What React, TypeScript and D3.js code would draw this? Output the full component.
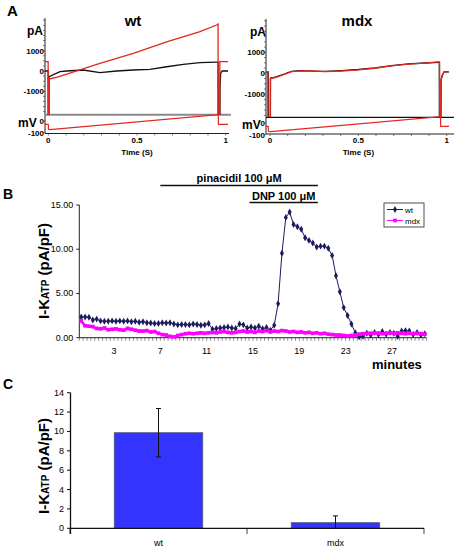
import React from 'react';
import * as d3 from 'd3';

const FONT = "'Liberation Sans', Arial, Helvetica, sans-serif";

// ---------- Panel A : current / voltage traces [time (s), value] ----------
const OFF = -5000; // off-scale (clipped) current
const wtBlackCurrent: [number, number][] = [
  [-0.02, 0], [-0.001, 0], [0.0, OFF], [0.003, OFF], [0.004, -280], [0.066, -30], [0.104, 0], [0.197, 50],
  [0.291, -80], [0.385, 0], [0.479, 50], [0.573, 80], [0.667, 210], [0.761, 330], [0.855, 410], [0.949, 440],
  [0.957, 440], [0.958, OFF], [0.967, OFF], [0.968, -800], [0.972, -100], [0.98, 0], [1.013, 0],
];
const wtRedCurrent: [number, number][] = [
  [-0.02, 460], [-0.001, 460], [0.0, OFF], [0.003, OFF], [0.004, -400], [0.05, -300], [0.104, -150],
  [0.291, 380], [0.479, 870], [0.667, 1440], [0.855, 1935], [0.949, 2265], [0.957, 2315], [0.958, OFF],
  [0.966, OFF], [0.967, 460], [1.013, 460],
];
const mdxBlackCurrent: [number, number][] = [
  [-0.025, 60], [-0.01, 60], [-0.009, OFF], [0.001, OFF], [0.003, -230], [0.03, -180], [0.08, -40],
  [0.122, 90], [0.17, 130], [0.25, 100], [0.311, 90], [0.405, 130], [0.5, 180], [0.594, 260], [0.688, 370],
  [0.783, 450], [0.877, 490], [0.953, 520], [0.958, 520], [0.959, OFF], [0.966, OFF], [0.968, -300],
  [0.975, -80], [0.985, 70], [1.013, 70],
];
const mdxRedCurrent: [number, number][] = [
  [-0.025, 80], [-0.012, 80], [-0.011, OFF], [0.0, OFF], [0.002, -250], [0.03, -200], [0.08, -50],
  [0.122, 80], [0.17, 120], [0.25, 110], [0.311, 80], [0.405, 110], [0.5, 160], [0.594, 240], [0.688, 350],
  [0.783, 440], [0.877, 480], [0.953, 540], [0.96, 540], [0.961, OFF], [0.966, OFF], [0.968, -350],
  [0.975, -100], [0.985, 60], [1.013, 80],
];
const wtVoltage: [number, number][] = [
  [-0.02, -30], [0.0, -30], [0.001, -72], [0.01, -75], [0.958, 55], [0.959, -30], [1.013, -30],
];
const mdxVoltage: [number, number][] = [
  [-0.025, -30], [-0.01, -30], [-0.009, -72], [0.005, -75], [0.965, 55], [0.966, -30], [1.013, -30],
];
const timeTicks = [0, 0.5, 1];
const timeTickLabels = ['0', '0.5', '1'];
const currentTicks = [1000, 0, -1000];
const voltageTicks = [0, -100];

// ---------- Panel B : I-KATP time course (one sample every 20 s) ----------
const wtKatp = [
  2.35, 2.35, 2.3, 2.0, 2.1, 1.9, 1.85, 1.85, 1.9,
  1.85, 1.9, 1.85, 1.9, 1.8, 1.85, 1.75, 1.8, 1.7,
  1.65, 1.6, 1.6, 1.7, 1.65, 1.7, 1.55, 1.45, 1.5,
  1.5, 1.45, 1.55, 1.5, 1.4, 1.45, 1.6, 0.95, 1.05,
  1.1, 1.15, 1.2, 1.1, 1.05, 1.55, 1.45, 1.1, 1.2,
  1.1, 1.3, 1.0, 1.15, 0.85,
  1.4, 3.85, 9.55, 13.6, 14.2, 12.8, 12.55, 12.25, 11.3, 11.0, 10.7, 10.25, 10.35, 10.35, 10.1, 9.3,
  7.0, 5.2, 3.4, 2.5, 1.55, 0.57,
  0.1, 0.15, 0.5, 0.3, 0.6, 0.35, 0.7, 0.4, 0.6,
  0.5, 0.15, 0.75, 0.8, 0.75, 0.35, 0.6, 0.3, 0.45,
];
const mdxKatp = [
  1.9, 1.35, 1.3, 1.25, 1.05, 1.0, 1.1, 0.9, 0.95,
  1.0, 0.9, 0.85, 1.05, 0.95, 0.85, 0.75, 0.75, 0.8,
  0.65, 0.7, 0.5, 0.35, 0.3, 0.15, 0.1, 0.25, 0.35,
  0.45, 0.5, 0.45, 0.5, 0.55, 0.5, 0.55, 0.6, 0.55,
  0.65, 0.7, 0.6, 0.55, 0.6, 0.7, 0.75, 0.65, 0.7,
  0.6, 0.75, 0.7, 0.8, 0.65, 0.75, 0.7, 0.8, 0.75,
  0.65, 0.7, 0.6, 0.65, 0.55, 0.6, 0.5, 0.55, 0.45,
  0.5, 0.4, 0.35, 0.3, 0.3, 0.25, 0.2, 0.25, 0.3,
  0.4, 0.45, 0.5, 0.5, 0.55, 0.5, 0.45, 0.5, 0.55,
  0.5, 0.55, 0.5, 0.45, 0.5, 0.45, 0.5, 0.45, 0.4,
];
const minuteTicks = [3, 7, 11, 15, 19, 23, 27];
const katpTicks = [0, 5, 10, 15];
const seriesNames = ['wt', 'mdx'];
const pinacidilSpan = [7, 20.6];
const dnpSpan = [14.7, 20.6];

// ---------- Panel C : mean I-KATP ----------
const groups = ['wt', 'mdx'];
const meanKatp = [9.87, 0.58];
const semKatp = [2.5, 0.7];
const barTicks = [0, 2, 4, 6, 8, 10, 12, 14];

type Cfg = {
  title: string; axisX: number; t0: number; t1: number; xEnd: number; yTop: number; xAxisY: number;
  i0: number; i1000: number; hline: number; hlineColor: string; hlineW: number; hlineEnd: number;
  v0: number; vm100: number; titleX: number; pAX: number; pAY: number; mVX: number; mVY: number;
  black: [number, number][]; red: [number, number][]; volt: [number, number][]; id: string;
};

function PanelA({ c }: { c: Cfg }) {
  const x = d3.scaleLinear().domain([0, 1]).range([c.t0, c.t1]);
  const yI = d3.scaleLinear().domain([0, 1000]).range([c.i0, c.i1000]);
  const yV = d3.scaleLinear().domain([0, -100]).range([c.v0, c.vm100]);
  const lineI = d3.line<[number, number]>().x(d => x(d[0])).y(d => yI(d[1]));
  const lineV = d3.line<[number, number]>().x(d => x(d[0])).y(d => yV(d[1]));
  const minorT = d3.range(0, 1.01, 0.1);
  const minorI = d3.range(-2000, 2600, 250);
  const red = '#e3261f';
  return (
    <g>
      <defs>
        <clipPath id={'clip' + c.id}>
          <rect x={c.axisX} y={c.yTop} width={c.xEnd - c.axisX} height={c.hline - c.yTop} />
        </clipPath>
      </defs>
      <text x={c.titleX} y={26} textAnchor="middle" fontSize={15} fontWeight="bold">{c.title}</text>
      <text x={c.pAX} y={c.pAY} fontSize={12} fontWeight="bold">pA</text>
      <text x={c.mVX} y={c.mVY} fontSize={12} fontWeight="bold">mV</text>
      {/* y axis */}
      <line x1={c.axisX} x2={c.axisX} y1={c.yTop} y2={c.xAxisY} stroke="#222" strokeWidth={1} />
      {minorI.filter(v => yI(v) > c.yTop && yI(v) < c.hline).map(v => (
        <line key={v} x1={c.axisX - 2} x2={c.axisX} y1={yI(v)} y2={yI(v)} stroke="#444" strokeWidth={0.7} />
      ))}
      {currentTicks.map(v => (
        <text key={v} x={c.axisX - 1} y={yI(v) + 3} textAnchor="end" fontSize={8} fontWeight="bold">{v}</text>
      ))}
      {voltageTicks.map(v => (
        <text key={v} x={c.axisX - 1} y={yV(v) + 3} textAnchor="end" fontSize={8} fontWeight="bold">{v}</text>
      ))}
      {voltageTicks.map(v => (
        <line key={'vt' + v} x1={c.axisX - 2} x2={c.axisX} y1={yV(v)} y2={yV(v)} stroke="#444" strokeWidth={0.8} />
      ))}
      {/* x axis */}
      <line x1={c.axisX} x2={c.xEnd} y1={c.xAxisY} y2={c.xAxisY} stroke="#222" strokeWidth={1.2} />
      {minorT.map(t => (
        <line key={t} x1={x(t)} x2={x(t)} y1={c.xAxisY} y2={c.xAxisY + 2} stroke="#444" strokeWidth={0.7} />
      ))}
      {timeTicks.map((t, i) => (
        <text key={t} x={x(t)} y={c.xAxisY + 9} textAnchor="middle" fontSize={8} fontWeight="bold">{timeTickLabels[i]}</text>
      ))}
      <text x={(c.t0 + c.t1) / 2} y={c.xAxisY + 21} textAnchor="middle" fontSize={8} fontWeight="bold">Time  (S)</text>
      {/* bottom line of current window */}
      <line x1={c.axisX} x2={c.hlineEnd} y1={c.hline} y2={c.hline} stroke={c.hlineColor} strokeWidth={c.hlineW} />
      <g clipPath={`url(#clip${c.id})`}>
        <path d={lineI(c.black) || ''} fill="none" stroke="#111" strokeWidth={1.3} />
        <path d={lineI(c.red) || ''} fill="none" stroke={red} strokeWidth={1.3} />
      </g>
      <path d={lineV(c.volt) || ''} fill="none" stroke={red} strokeWidth={1.2} />
    </g>
  );
}

function PanelB() {
  const x = d3.scaleLinear().domain([0, 30]).range([79.3, 426.7]);
  const y = d3.scaleLinear().domain([0, 15]).range([337.7, 205]);
  const minutesOf = (i: number) => (i + 0.5) / 3;
  const lineOf = d3.line<number>().x((_, i) => x(minutesOf(i))).y(d => y(d));
  const diamond = d3.symbol().type(d3.symbolDiamond).size(14)() || '';
  const square = d3.symbol().type(d3.symbolSquare).size(14)() || '';
  const navy = '#1b1b5e';
  const magenta = '#ff00ff';
  const minor = d3.range(0, 90.5, 1).map(i => i / 3);
  return (
    <g>
      <text x={3} y={199} fontSize={14} fontWeight="bold">B</text>
      {/* drug bars */}
      <text x={(x(pinacidilSpan[0]) + x(pinacidilSpan[1])) / 2} y={182} textAnchor="middle" fontSize={11} fontWeight="bold">pinacidil 100 μM</text>
      <line x1={x(pinacidilSpan[0])} x2={x(pinacidilSpan[1])} y1={185.5} y2={185.5} stroke="#111" strokeWidth={1.4} />
      <text x={(x(dnpSpan[0]) + x(dnpSpan[1])) / 2} y={199.5} textAnchor="middle" fontSize={11} fontWeight="bold">DNP 100 μM</text>
      <line x1={x(dnpSpan[0])} x2={x(dnpSpan[1])} y1={202.5} y2={202.5} stroke="#111" strokeWidth={1.4} />
      {/* axes */}
      <line x1={x(0)} x2={x(0)} y1={y(15)} y2={y(0)} stroke="#222" strokeWidth={1} />
      {katpTicks.map(v => (
        <g key={v}>
          <line x1={x(0) - 3} x2={x(0)} y1={y(v)} y2={y(v)} stroke="#222" strokeWidth={1} />
          <text x={x(0) - 6} y={y(v) + 3} textAnchor="end" fontSize={9}>{v.toFixed(2)}</text>
        </g>
      ))}
      <line x1={x(0)} x2={x(30)} y1={y(0)} y2={y(0)} stroke="#222" strokeWidth={1} />
      {minor.map(m => (
        <line key={m} x1={x(m)} x2={x(m)} y1={y(0)} y2={y(0) + 3} stroke="#555" strokeWidth={0.7} />
      ))}
      {minuteTicks.map(m => (
        <text key={m} x={x(m)} y={y(0) + 16.5} textAnchor="middle" fontSize={9}>{m}</text>
      ))}
      <text x={372} y={369} fontSize={13} fontWeight="bold">minutes</text>
      <text transform={`translate(49,271) rotate(-90)`} textAnchor="middle" fontWeight="bold" fontSize={15}>
        I-K<tspan fontSize={10}>ATP</tspan> (pA/pF)
      </text>
      {/* series */}
      <path d={lineOf(wtKatp) || ''} fill="none" stroke={navy} strokeWidth={1} />
      {wtKatp.map((v, i) => (
        <path key={i} d={diamond} transform={`translate(${x(minutesOf(i))},${y(v)})`} fill={navy} />
      ))}
      <path d={lineOf(mdxKatp) || ''} fill="none" stroke={magenta} strokeWidth={2.5} />
      {mdxKatp.map((v, i) => (
        <path key={i} d={square} transform={`translate(${x(minutesOf(i))},${y(v)})`} fill={magenta} />
      ))}
      {/* legend */}
      <rect x={384} y={203} width={40} height={24} fill="#fff" stroke="#222" strokeWidth={0.8} />
      <line x1={387} x2={403} y1={209.5} y2={209.5} stroke={navy} strokeWidth={1} />
      <path d={diamond} transform="translate(395,209.5)" fill={navy} />
      <text x={405} y={212.5} fontSize={8}>{seriesNames[0]}</text>
      <line x1={387} x2={403} y1={220.5} y2={220.5} stroke={magenta} strokeWidth={1} />
      <path d={square} transform="translate(395,220.5)" fill={magenta} />
      <text x={405} y={223.5} fontSize={8}>{seriesNames[1]}</text>
    </g>
  );
}

function PanelC() {
  const y = d3.scaleLinear().domain([0, 14]).range([528.3, 392.7]);
  const xb = d3.scaleBand<string>().domain(groups).range([70, 424]).padding(0);
  const bw = xb.bandwidth() * 0.5;
  return (
    <g>
      <text x={3} y={389} fontSize={14} fontWeight="bold">C</text>
      <text transform={`translate(49,466) rotate(-90)`} textAnchor="middle" fontWeight="bold" fontSize={15}>
        I-K<tspan fontSize={10}>ATP</tspan> (pA/pF)
      </text>
      {groups.map((g, i) => {
        const cx = (xb(g) || 0) + xb.bandwidth() / 2;
        const top = y(meanKatp[i] + semKatp[i]);
        const bot = y(Math.max(0, meanKatp[i] - semKatp[i]));
        const lowCap = meanKatp[i] - semKatp[i] > 0;
        return (
          <g key={g}>
            <rect x={cx - bw / 2} y={y(meanKatp[i])} width={bw} height={y(0) - y(meanKatp[i])}
              fill="#3434ff" stroke="#55557a" strokeWidth={0.8} />
            <line x1={cx} x2={cx} y1={top} y2={bot} stroke="#111" strokeWidth={1} />
            <line x1={cx - 2.5} x2={cx + 2.5} y1={top} y2={top} stroke="#111" strokeWidth={1} />
            {lowCap && <line x1={cx - 2.5} x2={cx + 2.5} y1={bot} y2={bot} stroke="#111" strokeWidth={1} />}
            <text x={cx} y={546} textAnchor="middle" fontSize={9}>{g}</text>
          </g>
        );
      })}
      <line x1={70.5} x2={70.5} y1={y(14)} y2={534} stroke="#111" strokeWidth={1.3} />
      {barTicks.map(v => (
        <g key={v}>
          <line x1={67} x2={70.5} y1={y(v)} y2={y(v)} stroke="#111" strokeWidth={1} />
          <text x={64} y={y(v) + 3} textAnchor="end" fontSize={9}>{v}</text>
        </g>
      ))}
      <line x1={70} x2={424} y1={y(0)} y2={y(0)} stroke="#111" strokeWidth={1.3} />
      {[70, 247, 424].map(px => (
        <line key={px} x1={px} x2={px} y1={y(0)} y2={534} stroke="#111" strokeWidth={0.8} />
      ))}
    </g>
  );
}

const leftCfg: Cfg = {
  id: 'L', title: 'wt', axisX: 45, t0: 48.3, t1: 225.7, xEnd: 229, yTop: 18, xAxisY: 133.5,
  i0: 71, i1000: 50.7, hline: 114.7, hlineColor: '#8a8a8a', hlineW: 2, hlineEnd: 231,
  v0: 121, vm100: 132.5, titleX: 133, pAX: 27, pAY: 34.5, mVX: 18, mVY: 127,
  black: wtBlackCurrent, red: wtRedCurrent, volt: wtVoltage,
};
const rightCfg: Cfg = {
  id: 'R', title: 'mdx', axisX: 266, t0: 270, t1: 446.7, xEnd: 454, yTop: 19, xAxisY: 134,
  i0: 73.3, i1000: 52.3, hline: 117.3, hlineColor: '#111', hlineW: 1.2, hlineEnd: 454,
  v0: 123, vm100: 134.5, titleX: 357, pAX: 250, pAY: 36, mVX: 242, mVY: 129,
  black: mdxBlackCurrent, red: mdxRedCurrent, volt: mdxVoltage,
};

export default function App() {
  return (
    <svg width={454} height={549} viewBox="0 0 454 549"
      style={{ position: 'absolute', left: 0, top: 0, display: 'block', background: '#fff' }}
      fontFamily={FONT}>
      <rect width={454} height={549} fill="#fff" />
      <text x={7} y={16} fontSize={15} fontWeight="bold">A</text>
      <PanelA c={leftCfg} />
      <PanelA c={rightCfg} />
      <PanelB />
      <PanelC />
    </svg>
  );
}
